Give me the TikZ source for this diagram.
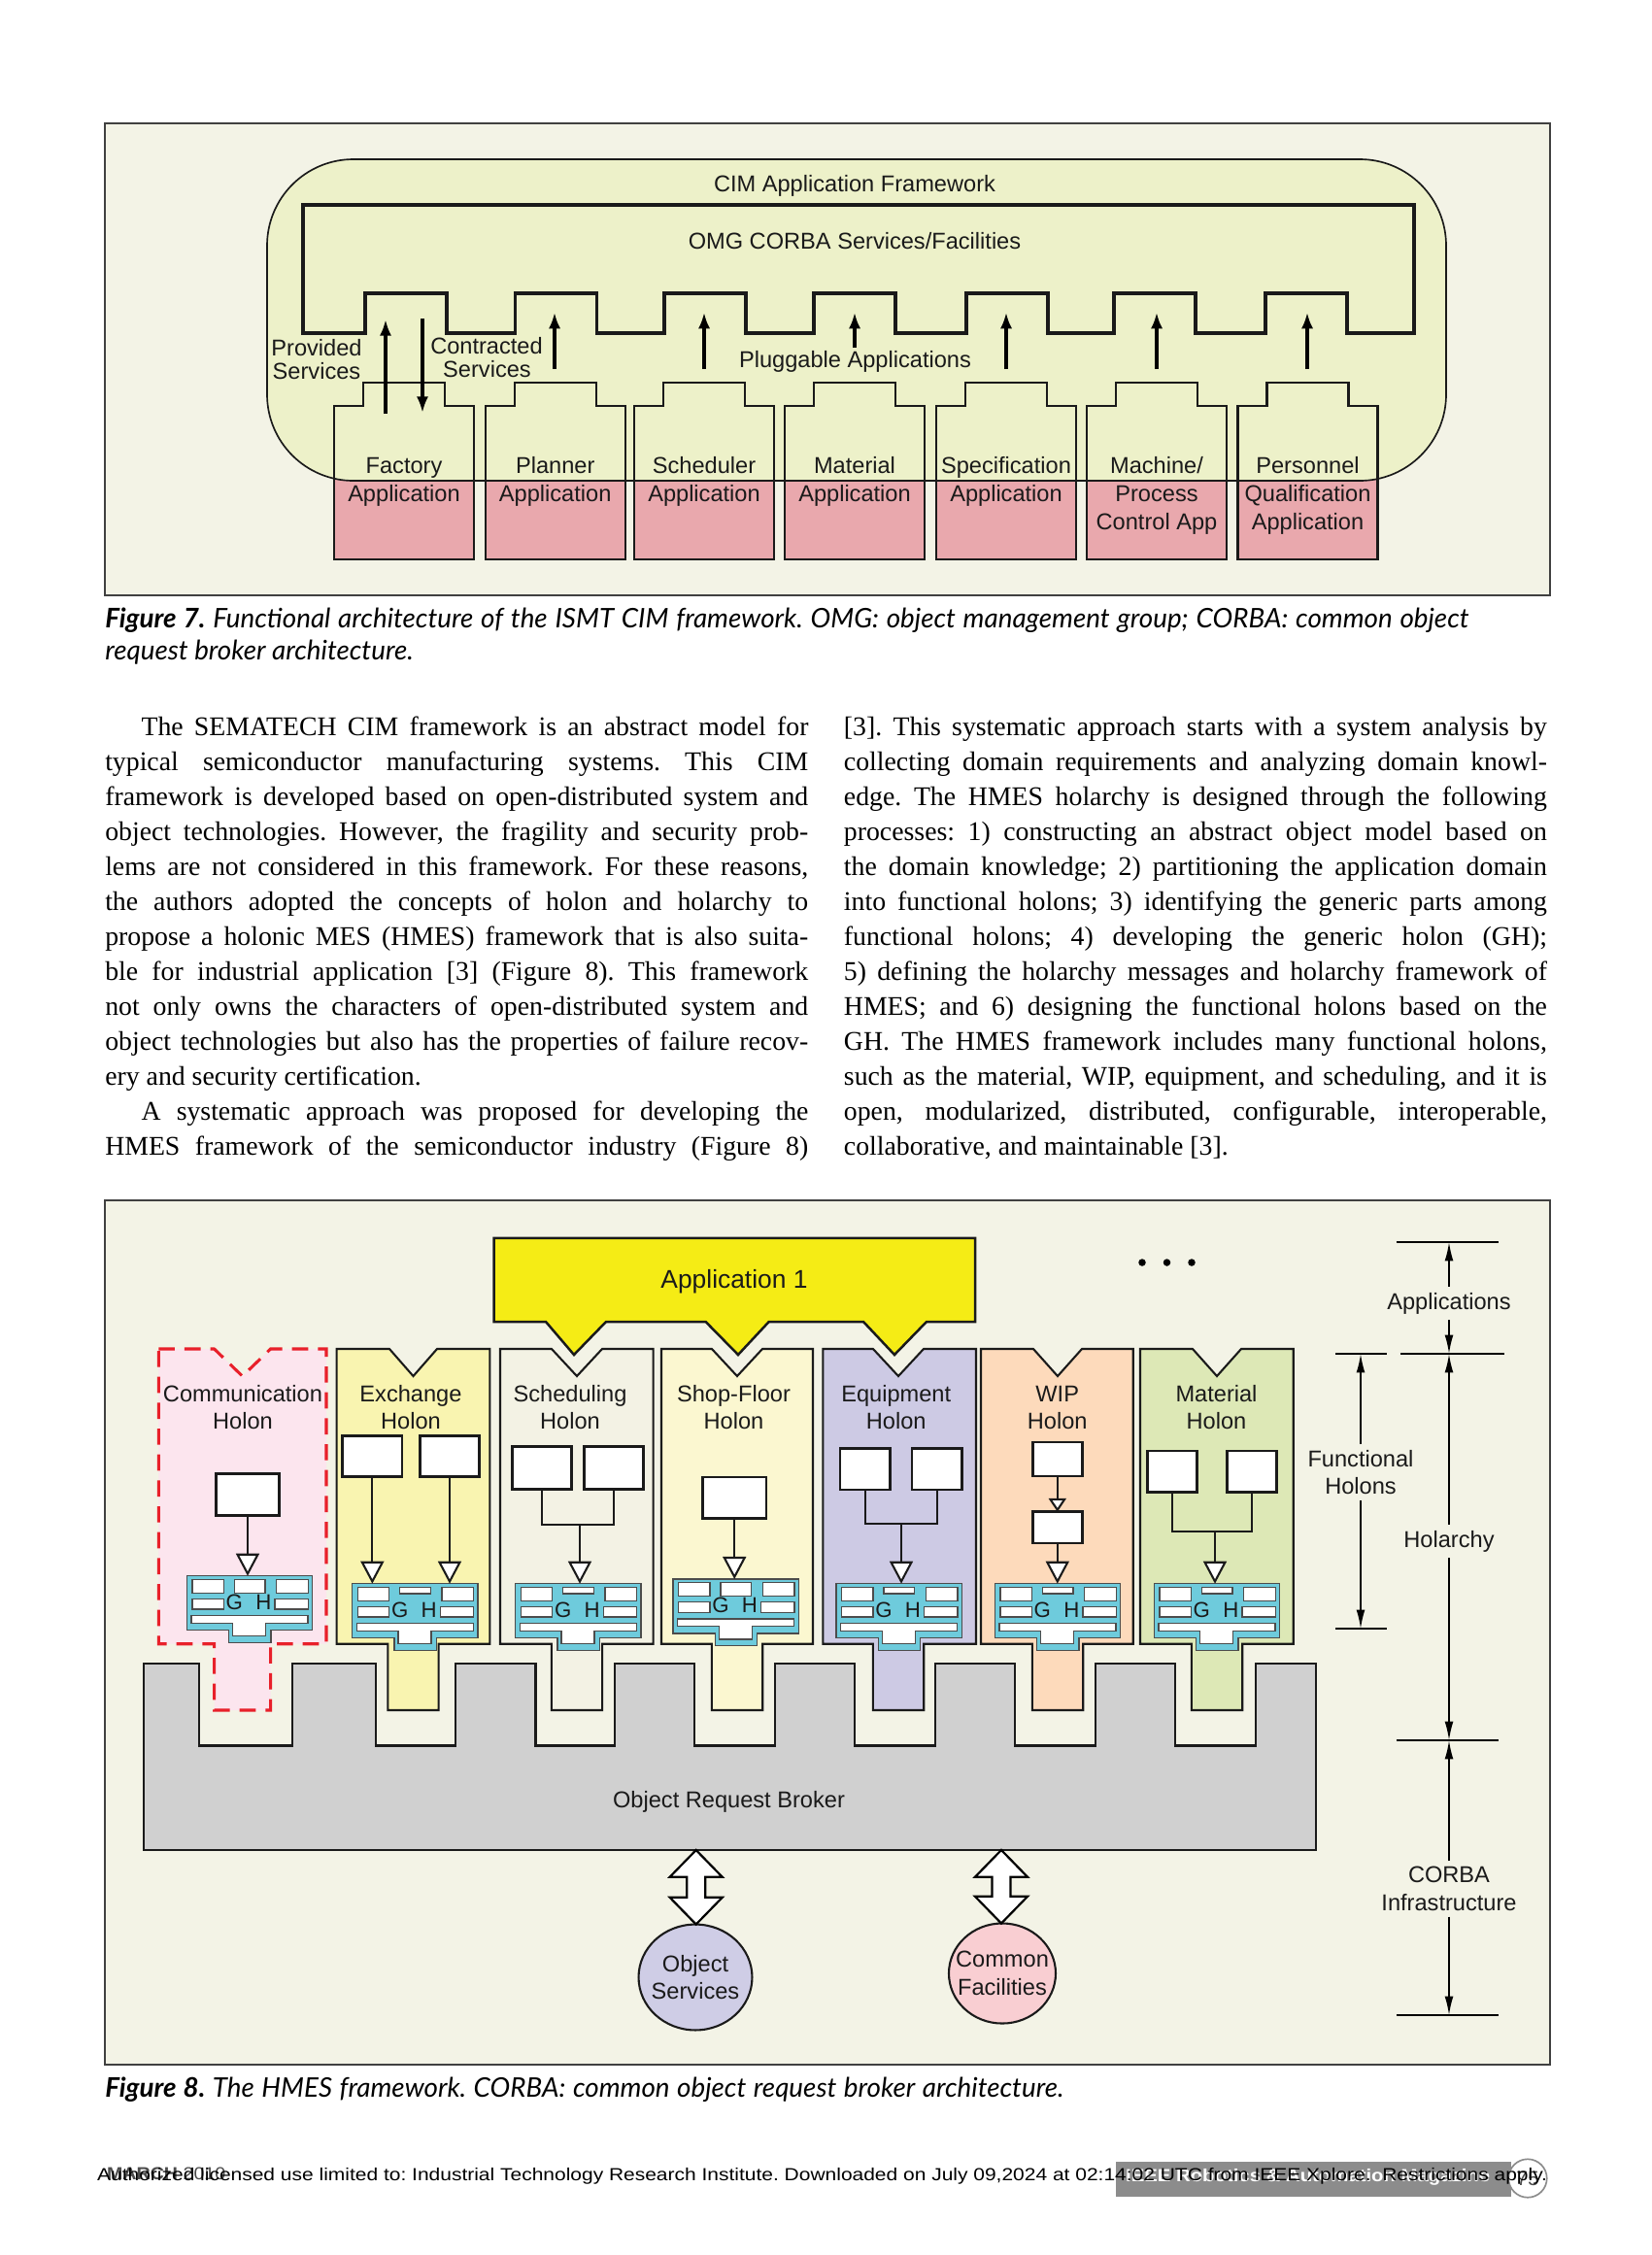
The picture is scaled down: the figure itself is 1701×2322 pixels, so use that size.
\documentclass[tikz,border=0pt]{standalone}
\usepackage{fontspec}
\usepackage{graphicx}
\setmainfont{Liberation Serif}
\newfontfamily\labf{Liberation Sans}
\newfontfamily\capf{Lato}
\usetikzlibrary{arrows.meta,shapes.geometric}
\definecolor{bgc}{HTML}{F3F3E6}
\definecolor{fwc}{HTML}{EDF1C9}
\definecolor{pinkc}{HTML}{E9A8AD}
\definecolor{exc}{HTML}{F9F4B0}
\definecolor{schc}{HTML}{F3F2E4}
\definecolor{shopc}{HTML}{FBF7D0}
\definecolor{eqc}{HTML}{CDCAE4}
\definecolor{wipc}{HTML}{FDDABB}
\definecolor{matc}{HTML}{DDE8B6}
\definecolor{comc}{HTML}{FCE5EE}
\definecolor{ghc}{HTML}{6ECBDC}
\definecolor{orbc}{HTML}{D0D0D0}
\definecolor{osc}{HTML}{CFCDE6}
\definecolor{cfc}{HTML}{F9CED2}
\definecolor{appc}{HTML}{F5EC15}
\definecolor{redc}{HTML}{E8202A}
\definecolor{linec}{HTML}{1A1A1A}
\definecolor{footg}{HTML}{8C8C8C}
\newlength\jw
\newcommand\jl[2]{\settowidth\jw{#2}\ifdim\jw>#1\relax\resizebox{#1}{\height}{#2}\else\makebox[#1][s]{#2}\fi}
\newcommand\bodyline[4]{\node[body] (#1) at (#2,{757.3+(#3-1)*36.04}) {#4};}
\newcommand\holon[6]{\draw[#6] (#1,1389) -- ({#3-#4},1389) -- (#3,1417) -- ({#3+#4},1389) -- (#2,1389) -- (#2,1692.7) -- ({#3+#5},1692.7) -- ({#3+#5},1761) -- ({#3-#5},1761) -- ({#3-#5},1692.7) -- (#1,1692.7) -- cycle;}
\newcommand\GH[4]{\begin{scope}[shift={(#1,#2)}]
 \draw[ghout] (0,0) -- (129.3,0) -- (129.3,56) -- (86.6,56) -- (86.6,68.6) -- (43.3,68.6) -- (43.3,56) -- (0,56) -- cycle;
 \draw[ghw] (5.6,3.6) rectangle (38,17.6);
 \draw[ghw] (49,3.6) rectangle (80.6,#4);
 \draw[ghw] (92.3,3.6) rectangle (125,17.6);
 \draw[ghw] (5.6,23.6) rectangle (38,34.3);
 \draw[ghw] (90.6,23.6) rectangle (125,34.3);
 \draw[ghw] (4.6,41) -- (124.6,41) -- (124.6,48.6) -- (81.3,48.6) -- (81.3,62) -- (47.3,62) -- (47.3,48.6) -- (4.6,48.6) -- cycle;
 \node[ghtxt] (#3g) at (49,27) {G};
 \node[ghtxt] (#3h) at (79,27) {H};
 \coordinate (#3) at (64.65,0);
\end{scope}}
\newcommand\bx[5]{\node[wbox, minimum width={(#4-#2)*0.36pt}, minimum height={(#5-#3)*0.36pt}] (#1) at ({(#2+#4)/2},{(#3+#5)/2}) {};}
\newcommand\dbl[3]{\draw[barr] (#1,#2) -- ({#1+27},{#2+27.7}) -- ({#1+9.5},{#2+27.7}) -- ({#1+9.5},{#3-27.7}) -- ({#1+27},{#3-27.7}) -- (#1,#3) -- ({#1-27},{#3-27.7}) -- ({#1-9.5},{#3-27.7}) -- ({#1-9.5},{#2+27.7}) -- ({#1-27},{#2+27.7}) -- cycle;}
\begin{document}
\frenchspacing
\begin{tikzpicture}[x=0.36pt,y=-0.36pt,
 frm/.style={draw=black!75, line width=0.8pt, fill=bgc},
 lab/.style={font=\labf\fontsize{8.5}{10}\selectfont, anchor=base, inner sep=0pt, text=linec},
 body/.style={font=\fontsize{10}{12}\selectfont, anchor=base west, inner sep=0pt},
 capn/.style={font=\capf\itshape\fontsize{10}{12}\selectfont, anchor=base west, inner sep=0pt},
 blk/.style={draw=linec, line width=0.75pt},
 farr/.style={line width=1.4pt, draw=black, -{Latex[length=6pt,width=4.4pt]}},
 holo/.style={draw=linec, line width=0.75pt},
 wbox/.style={draw=linec, fill=white, line width=0.9pt, inner sep=0pt, outer sep=0pt},
 hline/.style={draw=linec, line width=0.75pt},
 harr/.style={hline, -{Triangle[length=8.3pt,width=8.6pt,fill=white]}},
 sarr/.style={hline, -{Triangle[length=5pt,width=6.5pt,fill=white]}},
 ghout/.style={draw=black!70, line width=0.5pt, fill=ghc},
 ghw/.style={draw=black!70, line width=0.45pt, fill=white},
 ghtxt/.style={font=\labf\fontsize{8}{9}\selectfont, inner sep=0pt, text=linec},
 dim/.style={draw=black, line width=0.7pt},
 darr/.style={draw=black, line width=0.6pt, -{Latex[length=7pt,width=3.2pt]}},
 barr/.style={draw=black, line width=0.8pt, fill=white, line join=miter},
 ell/.style={ellipse, draw=linec, line width=0.75pt, inner sep=0pt},
 elltxt/.style={align=center, inner sep=0pt, font=\labf\fontsize{8.5}{10.2}\selectfont, text=linec},
 dimlab/.style={font=\labf\fontsize{8.5}{10.2}\selectfont, align=center, inner sep=2pt, text=linec}]
\useasboundingbox[fill=white] (0,0) rectangle (1701,2322);
%% ================= Figure 7 =================
\draw[frm] (108,127) rectangle (1596,613);
\foreach \c in {416,571.7,725,880,1036,1191,1346.5}{
 \fill[pinkc] ({\c-72},575.7) -- ({\c-72},417.7) -- ({\c-42},417.7) -- ({\c-42},394) -- ({\c+42},394) -- ({\c+42},417.7) -- ({\c+72},417.7) -- ({\c+72},575.7) -- cycle;}
\draw[draw=linec, line width=0.6pt, fill=fwc, rounded corners=32pt] (275,164) rectangle (1489,495);
\draw[draw=linec, line width=1.1pt, line join=miter] (312,343) -- (312,211) -- (1456,211) -- (1456,343)
 -- (1387,343) -- (1387,302) -- (1303,302) -- (1303,343)
 -- (1231,343) -- (1231,302) -- (1147,302) -- (1147,343)
 -- (1079,343) -- (1079,302) -- (995,302) -- (995,343)
 -- (922,343) -- (922,302) -- (838,302) -- (838,343)
 -- (768,343) -- (768,302) -- (684,302) -- (684,343)
 -- (614.5,343) -- (614.5,302) -- (530.5,302) -- (530.5,343)
 -- (460,343) -- (460,302) -- (376,302) -- (376,343) -- cycle;
\foreach \c in {416,571.7,725,880,1036,1191,1346.5}{
 \draw[blk] ({\c-72},575.7) -- ({\c-72},417.7) -- ({\c-42},417.7) -- ({\c-42},394) -- ({\c+42},394) -- ({\c+42},417.7) -- ({\c+72},417.7) -- ({\c+72},575.7) -- cycle;}
\node[lab] (cimt) at (880,197) {CIM Application Framework};
\node[lab] (omgt) at (880,256) {OMG CORBA Services/Facilities};
\node[lab] (prov1) at (326,366) {Provided};
\node[lab] (prov2) at (326,390) {Services};
\node[lab] (cont1) at (501,364) {Contracted};
\node[lab] (cont2) at (501.5,388) {Services};
\node[lab] (plug) at (880.5,378) {Pluggable Applications};
\coordinate (pv1) at (397,426); \coordinate (pv2) at (397,329);
\coordinate (ct1) at (435,328); \coordinate (ct2) at (435,425);
\draw[farr] (pv1) -- (pv2);
\draw[farr] (ct1) -- (ct2);
\foreach \i/\x/\ya in {2/571/380,3/725/380,4/880/358,5/1036/380,6/1191/380,7/1346/380}{
 \coordinate (ua\i) at (\x,\ya); \coordinate (ub\i) at (\x,321.7);
 \draw[farr] (ua\i) -- (ub\i);}
\node[lab] (b1a) at (416,487) {Factory};
\node[lab] (b1b) at (416,516.3) {Application};
\node[lab] (b2a) at (571.7,487) {Planner};
\node[lab] (b2b) at (571.7,516.3) {Application};
\node[lab] (b3a) at (725,487) {Scheduler};
\node[lab] (b3b) at (725,516.3) {Application};
\node[lab] (b4a) at (880,487) {Material};
\node[lab] (b4b) at (880,516.3) {Application};
\node[lab] (b5a) at (1036,487) {Specification};
\node[lab] (b5b) at (1036,516.3) {Application};
\node[lab] (b6a) at (1191,487) {Machine/};
\node[lab] (b6b) at (1191,516.3) {Process};
\node[lab] (b6c) at (1191,545.5) {Control App};
\node[lab] (b7a) at (1346.5,487) {Personnel};
\node[lab] (b7b) at (1346.5,516.3) {Qualification};
\node[lab] (b7c) at (1346.5,545.5) {Application};
%% captions
\node[capn] (c7a) at (107.7,646.4) {\jl{505.4pt}{{\bfseries Figure 7.} Functional architecture of the ISMT CIM framework. OMG: object management group; CORBA: common object}};
\node[capn] (c7b) at (107.7,679) {request broker architecture.};
%% ================= Body text =================
\bodyline{l1}{145}{1}{\jl{247.32pt}{The SEMATECH CIM framework is an abstract model for}}
\bodyline{l2}{107.7}{2}{\jl{260.64pt}{typical semiconductor manufacturing systems. This CIM}}
\bodyline{l3}{107.7}{3}{\jl{260.64pt}{framework is developed based on open-distributed system and}}
\bodyline{l4}{107.7}{4}{\jl{260.64pt}{object technologies. However, the fragility and security prob-}}
\bodyline{l5}{107.7}{5}{\jl{260.64pt}{lems are not considered in this framework. For these reasons,}}
\bodyline{l6}{107.7}{6}{\jl{260.64pt}{the authors adopted the concepts of holon and holarchy to}}
\bodyline{l7}{107.7}{7}{\jl{260.64pt}{propose a holonic MES (HMES) framework that is also suita-}}
\bodyline{l8}{107.7}{8}{\jl{260.64pt}{ble for industrial application [3] (Figure 8). This framework}}
\bodyline{l9}{107.7}{9}{\jl{260.64pt}{not only owns the characters of open-distributed system and}}
\bodyline{l10}{107.7}{10}{\jl{260.64pt}{object technologies but also has the properties of failure recov-}}
\bodyline{l11}{107.7}{11}{ery and security certification.}
\bodyline{l12}{145}{12}{\jl{247.32pt}{A systematic approach was proposed for developing the}}
\bodyline{l13}{107.7}{13}{\jl{260.64pt}{HMES framework of the semiconductor industry (Figure 8)}}
\bodyline{r1}{868.4}{1}{\jl{260.64pt}{[3]. This systematic approach starts with a system analysis by}}
\bodyline{r2}{868.4}{2}{\jl{260.64pt}{collecting domain requirements and analyzing domain knowl-}}
\bodyline{r3}{868.4}{3}{\jl{260.64pt}{edge. The HMES holarchy is designed through the following}}
\bodyline{r4}{868.4}{4}{\jl{260.64pt}{processes: 1) constructing an abstract object model based on}}
\bodyline{r5}{868.4}{5}{\jl{260.64pt}{the domain knowledge; 2) partitioning the application domain}}
\bodyline{r6}{868.4}{6}{\jl{260.64pt}{into functional holons; 3) identifying the generic parts among}}
\bodyline{r7}{868.4}{7}{\jl{260.64pt}{functional holons; 4) developing the generic holon (GH);}}
\bodyline{r8}{868.4}{8}{\jl{260.64pt}{5) defining the holarchy messages and holarchy framework of}}
\bodyline{r9}{868.4}{9}{\jl{260.64pt}{HMES; and 6) designing the functional holons based on the}}
\bodyline{r10}{868.4}{10}{\jl{260.64pt}{GH. The HMES framework includes many functional holons,}}
\bodyline{r11}{868.4}{11}{\jl{260.64pt}{such as the material, WIP, equipment, and scheduling, and it is}}
\bodyline{r12}{868.4}{12}{\jl{260.64pt}{open, modularized, distributed, configurable, interoperable,}}
\bodyline{r13}{868.4}{13}{collaborative, and maintainable [3].}
%% ================= Figure 8 =================
\draw[frm] (108,1236) rectangle (1596,2126);
% application 1
\draw[draw=linec, line width=0.9pt, fill=appc, line join=miter] (508.5,1274.8) -- (1004,1274.8) -- (1004,1361) -- (954,1361) -- (921,1395) -- (889,1361) -- (791.7,1361) -- (760,1395) -- (726.6,1361) -- (624,1361) -- (591,1395) -- (562,1361) -- (508.5,1361) -- cycle;
\node[lab, font=\labf\fontsize{9.5}{11}\selectfont] (app1) at (756,1326) {Application 1};
\foreach \x [count=\i] in {1176,1201.5,1227}{\fill[black] (\x,1300) coordinate (dot\i) circle (1.35pt);}
% ORB
\draw[draw=linec, line width=0.9pt, fill=orbc, line join=miter] (148,1905) -- (148,1713)
 -- (205,1713) -- (205,1797.5) -- (301,1797.5) -- (301,1713)
 -- (387,1713) -- (387,1797.5) -- (469,1797.5) -- (469,1713)
 -- (551.5,1713) -- (551.5,1797.5) -- (633,1797.5) -- (633,1713)
 -- (715,1713) -- (715,1797.5) -- (798,1797.5) -- (798,1713)
 -- (880,1713) -- (880,1797.5) -- (963,1797.5) -- (963,1713)
 -- (1045,1713) -- (1045,1797.5) -- (1128,1797.5) -- (1128,1713)
 -- (1210,1713) -- (1210,1797.5) -- (1293,1797.5) -- (1293,1713)
 -- (1355,1713) -- (1355,1905) -- cycle;
\node[lab] (orbt) at (750.5,1861) {Object Request Broker};
% holons
\holon{163.3}{336}{249.6}{29}{29}{draw=redc, line width=1.1pt, dash pattern=on 6pt off 3.6pt, fill=comc}
\holon{346.7}{504.3}{425.5}{24.5}{26.2}{holo, fill=exc}
\holon{515}{672.7}{594}{26}{26.2}{holo, fill=schc}
\holon{681}{837}{759}{26}{26.2}{holo, fill=shopc}
\holon{847.3}{1005}{925}{26}{26.2}{holo, fill=eqc}
\holon{1010}{1166.7}{1089}{25}{26.2}{holo, fill=wipc}
\holon{1174}{1331.7}{1253}{25}{26.2}{holo, fill=matc}
\node[lab] (h1a) at (250,1443.3) {Communication};
\node[lab] (h1b) at (250,1471.7) {Holon};
\node[lab] (h2a) at (423,1443.3) {Exchange};
\node[lab] (h2b) at (423,1471.7) {Holon};
\node[lab] (h3a) at (587,1443.3) {Scheduling};
\node[lab] (h3b) at (587,1471.7) {Holon};
\node[lab] (h4a) at (755.5,1443.3) {Shop-Floor};
\node[lab] (h4b) at (755.5,1471.7) {Holon};
\node[lab] (h5a) at (922.7,1443.3) {Equipment};
\node[lab] (h5b) at (922.7,1471.7) {Holon};
\node[lab] (h6a) at (1088.7,1443.3) {WIP};
\node[lab] (h6b) at (1088.7,1471.7) {Holon};
\node[lab] (h7a) at (1252.5,1443.3) {Material};
\node[lab] (h7b) at (1252.5,1471.7) {Holon};
% communication
\bx{cb}{222.7}{1517.7}{287.3}{1560.7}
\GH{192.3}{1622.7}{cgh}{17.6}
\draw[harr] (cb.south) -- (cb.south |- cgh);
% exchange
\bx{xb1}{352.7}{1478.3}{414}{1520.7}
\bx{xb2}{432.7}{1478.3}{493.3}{1520.7}
\GH{362.7}{1630.7}{xgh}{10.3}
\draw[harr] (xb1.south) -- (xb1.south |- xgh);
\draw[harr] (xb2.south) -- (xb2.south |- xgh);
% scheduling
\bx{sb1}{527.3}{1489.3}{588.3}{1533.3}
\bx{sb2}{601.7}{1489.3}{662.3}{1533.3}
\coordinate (sj) at (597,1570);
\draw[hline] (sb1.south) |- (sj) -| (sb2.south);
\GH{530.7}{1630.7}{sgh}{10.3}
\draw[harr] (sj) -- (sj |- sgh);
% shop floor
\bx{fb}{723.7}{1520.9}{788.8}{1563.7}
\GH{693}{1626}{fgh}{17.6}
\draw[harr] (fb.south) -- (fb.south |- fgh);
% equipment
\bx{eb1}{865}{1491.7}{916.7}{1534}
\bx{eb2}{939}{1491.7}{990.7}{1534}
\coordinate (ej) at (928,1569.3);
\draw[hline] (eb1.south) |- (ej) -| (eb2.south);
\GH{861}{1630.7}{egh}{10.3}
\draw[harr] (ej) -- (ej |- egh);
% WIP
\bx{wb1}{1063.3}{1485}{1114.3}{1520}
\bx{wb2}{1063.3}{1556.7}{1114.3}{1589}
\draw[sarr] (wb1.south) -- (wb2.north);
\GH{1024.3}{1630.7}{wgh}{10.3}
\draw[harr] (wb2.south) -- (wb2.south |- wgh);
% material
\bx{mb1}{1181.7}{1494}{1232.7}{1536.7}
\bx{mb2}{1263.3}{1494}{1314.3}{1536.7}
\coordinate (mj) at (1251,1577.3);
\draw[hline] (mb1.south) |- (mj) -| (mb2.south);
\GH{1188.3}{1630.7}{mgh}{10.3}
\draw[harr] (mj) -- (mj |- mgh);
% services
\node[ell, fill=osc, minimum width=42.1pt, minimum height=39.2pt] (os) at (716,2036) {};
\node[elltxt] (ost) at (os.center) {Object\\Services};
\node[ell, fill=cfc, minimum width=39.6pt, minimum height=37.1pt] (cf) at (1032,2032) {};
\node[elltxt] (cft) at (cf.center) {Common\\Facilities};
\dbl{716.7}{1905}{1981.5}
\dbl{1031}{1905}{1980.5}
% dimension marks
\coordinate (a1l) at (1437.5,1279); \coordinate (a1r) at (1543,1279);
\coordinate (a2l) at (1442,1394); \coordinate (a2r) at (1549,1394);
\coordinate (f1l) at (1375,1394); \coordinate (f1r) at (1428,1394);
\coordinate (f2l) at (1375,1677); \coordinate (f2r) at (1428,1677);
\coordinate (a3l) at (1437.5,1792); \coordinate (a3r) at (1543,1792);
\coordinate (a4l) at (1437.5,2075); \coordinate (a4r) at (1543,2075);
\draw[dim] (a1l) -- (a1r);
\draw[dim] (a2l) -- (a2r);
\draw[dim] (f1l) -- (f1r);
\draw[dim] (f2l) -- (f2r);
\draw[dim] (a3l) -- (a3r);
\draw[dim] (a4l) -- (a4r);
\node[dimlab] (applab) at (1492,1342) {Applications};
\node[dimlab] (funlab) at (1401,1516) {Functional\\Holons};
\node[dimlab] (holab) at (1492,1587) {Holarchy};
\node[dimlab] (corlab) at (1492,1945) {CORBA\\Infrastructure};
\draw[darr] (applab.north) -- (applab.north |- a1l);
\draw[darr] (applab.south) -- (applab.south |- a2l);
\draw[darr] (funlab.north) -- (funlab.north |- f1l);
\draw[darr] (funlab.south) -- (funlab.south |- f2l);
\draw[darr] (holab.north) -- (holab.north |- a2l);
\draw[darr] (holab.south) -- (holab.south |- a3l);
\draw[darr] (corlab.north) -- (corlab.north |- a3l);
\draw[darr] (corlab.south) -- (corlab.south |- a4l);
\node[capn] (c8) at (107.7,2159) {\jl{355.3pt}{{\bfseries Figure 8.} The HMES framework. CORBA: common object request broker architecture.}};
%% ================= Footer =================
\fill[footg] (1148.7,2226) coordinate (barl) rectangle (1556,2262);
\node[anchor=base west, inner sep=0pt, text=white, font=\labf\bfseries\fontsize{6.5}{8}\selectfont] (ieee) at (1158.6,2246) {\resizebox{135pt}{\height}{IEEE Robotics \& Automation Magazine}};
\node[circle, draw=footg, fill=white, line width=0.6pt, minimum size=14.2pt, inner sep=0pt, font=\labf\fontsize{7.5}{9}\selectfont, text=black!70] (pg) at (1573,2243) {75};
\node[anchor=base west, inner sep=0pt, text=black!70, font=\labf\fontsize{6.5}{8}\selectfont] (mar) at (109.5,2244) {\resizebox{44pt}{\height}{\textbf{MARCH} 2010}};
\node[anchor=base west, inner sep=0pt, font=\labf\fontsize{6.5}{8}\selectfont] (auth) at (99.6,2245.7) {\resizebox{537.5pt}{\height}{Authorized licensed use limited to: Industrial Technology Research Institute. Downloaded on July 09,2024 at 02:14:02 UTC from IEEE Xplore.\ \ Restrictions apply.}};
\end{tikzpicture}
\end{document}
